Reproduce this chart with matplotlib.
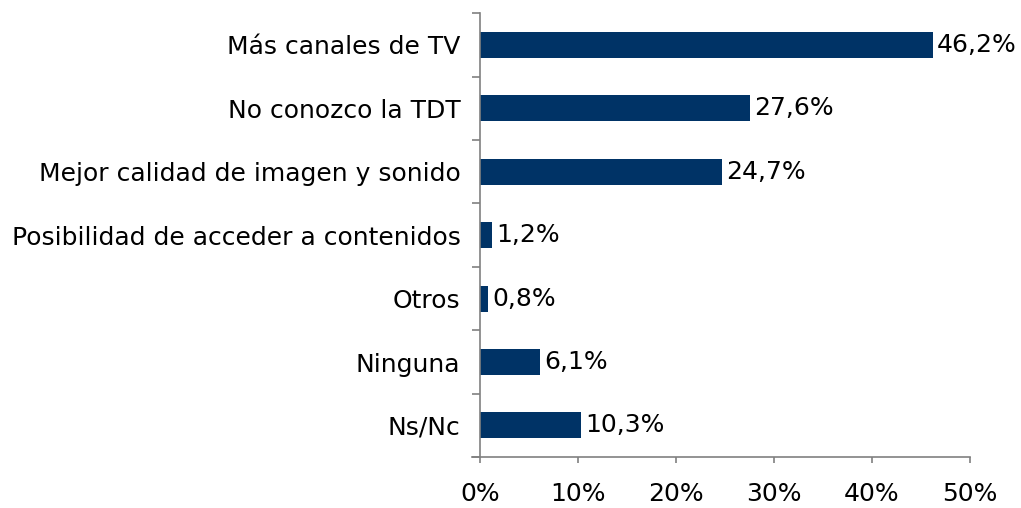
import matplotlib.pyplot as plt
from matplotlib.ticker import FuncFormatter, FixedLocator

categorias = ['Más canales de TV', 'No conozco la TDT', 'Mejor calidad de imagen y sonido',
              'Posibilidad de acceder a contenidos', 'Otros', 'Ninguna', 'Ns/Nc']
valores = [46.2, 27.6, 24.7, 1.2, 0.8, 6.1, 10.3]
ticks_x = [0, 10, 20, 30, 40, 50]

plt.rcParams['font.family'] = ['DejaVu Sans']

fig = plt.figure(figsize=(10.21, 5.08), dpi=100)
ax = fig.add_axes([0.470, 0.100, 0.480, 0.874])

n = len(categorias)
pos = list(range(n))
ax.barh(pos, valores, height=0.41, color='#003366')
ax.set_ylim(n - 0.5, -0.5)
ax.set_xlim(0, 50)

for p, v in zip(pos, valores):
    ax.annotate(('%.1f%%' % v).replace('.', ','), (v, p), xytext=(3, 0),
                textcoords='offset points', va='center', ha='left',
                fontsize=18, color='black')

ax.set_yticks(pos)
ax.set_yticklabels(categorias, fontsize=18)
ax.tick_params(axis='y', length=0, pad=14)
ax.yaxis.set_minor_locator(FixedLocator([i - 0.5 for i in range(n + 1)]))
ax.tick_params(axis='y', which='minor', length=6, color='#808080', width=1.2)

ax.set_xticks(ticks_x)
ax.xaxis.set_major_formatter(FuncFormatter(lambda x, _: '%d%%' % x))
ax.tick_params(axis='x', length=4.5, color='#808080', width=1.2, labelsize=18, pad=13)

for s in ['top', 'right']:
    ax.spines[s].set_visible(False)
for s in ['left', 'bottom']:
    ax.spines[s].set_color('#808080')
    ax.spines[s].set_linewidth(1.2)
ax.spines['bottom'].set_bounds(-0.8, 50)
ax.spines['bottom'].set_clip_on(False)

fig.savefig('out.png', dpi=100)
